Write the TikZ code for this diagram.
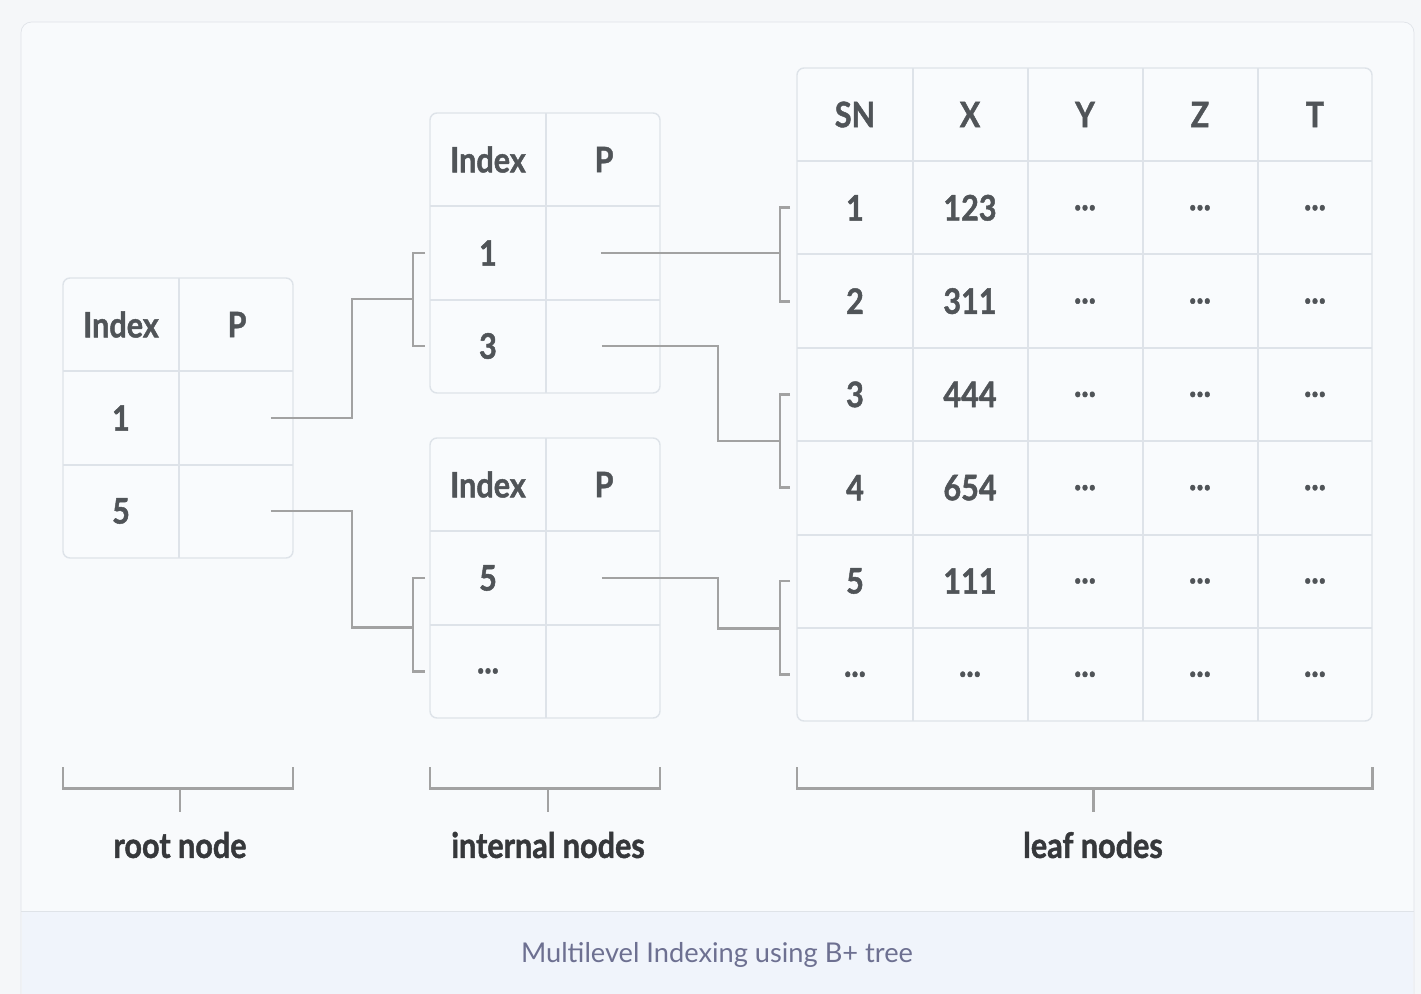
\documentclass[tikz,border=0pt]{standalone}
\usepackage{fontspec}
\setmainfont{Lato}[FakeStretch=0.87, BoldFeatures={FakeBold=1.3}]
\newfontfamily\captionfont{Lato}
\usetikzlibrary{positioning}
\definecolor{page-bg}{HTML}{F5F7F9}
\definecolor{card-bg}{HTML}{F8FAFC}
\definecolor{card-border}{HTML}{DFE3E8}
\definecolor{caption-bg}{HTML}{F0F4FB}
\definecolor{caption-color}{HTML}{6D7091}
\definecolor{cell-fill}{HTML}{F9FBFD}
\definecolor{cell-border}{HTML}{DEE3E9}
\definecolor{cell-color}{HTML}{505458}
\definecolor{label-color}{HTML}{36383B}
\definecolor{link-color}{HTML}{A2A2A2}
\newcommand{\moredots}{...}
\tikzset{
  table-cell/.style={
    minimum width=2.3cm, minimum height=1.86cm, inner sep=0pt,
    text=cell-color, font=\fontsize{20}{23}\selectfont\bfseries
  },
  table-frame/.style={draw=cell-border, fill=cell-fill, line width=0.8pt, rounded corners=4pt},
  table-grid/.style={draw=cell-border, line width=0.8pt},
  link/.style={draw=link-color, line width=1.7pt},
  group-label/.style={text=label-color, font=\fontsize{20}{23}\selectfont\bfseries},
  caption-text/.style={text=caption-color, font=\captionfont\fontsize{15.5}{18}\selectfont}
}

\begin{document}
\begin{tikzpicture}[x=0.02cm, y=-0.02cm]
  \clip (0,0) rectangle (1421,994);
  \fill[page-bg] (0,0) rectangle (1421,994);
  \draw[card-border, fill=card-bg, rounded corners=6pt] (21,22) rectangle (1414,1040);
  \fill[caption-bg] (22,911) rectangle (1413,994);
  \draw[card-border] (21,911) -- (1414,911);
  \node[caption-text] (caption) at (717,955) {Multilevel Indexing using B+ tree};

  % root and internal nodes: Index / P tables
  \foreach \t/\x/\y/\ka/\kb in {root/63/278/1/5, int1/430/113/1/3, int2/430/438/5/\moredots} {
    \draw[table-frame] (\x,\y) rectangle ++(230,280);
    \draw[table-grid] (\x+116,\y) -- ++(0,280);
    \draw[table-grid] (\x,\y+93) -- ++(230,0) (\x,\y+187) -- ++(230,0);
    \node[table-cell] (\t-h1) at (\x+58,\y+46.5)  {Index};
    \node[table-cell] (\t-h2) at (\x+174,\y+46.5) {P};
    \node[table-cell] (\t-k1) at (\x+58,\y+140)   {\ka};
    \node[table-cell] (\t-p1) at (\x+174,\y+140)  {};
    \node[table-cell] (\t-k2) at (\x+58,\y+233)   {\kb};
    \node[table-cell] (\t-p2) at (\x+174,\y+233)  {};
  }

  % leaf nodes: the data records
  \draw[table-frame] (797,68) rectangle (1372,721);
  \foreach \c in {913,1028,1143,1258} \draw[table-grid] (\c,68) -- (\c,721);
  \foreach \r in {161,254,348,441,535,628} \draw[table-grid] (797,\r) -- (1372,\r);
  \foreach \h [count=\c] in {SN,X,Y,Z,T}
    \node[table-cell] (leaf-0-\c) at (740+115*\c,114.5) {\h};
  \foreach \sn/\xv [count=\r] in {1/123, 2/311, 3/444, 4/654, 5/111, \moredots/\moredots} {
    \node[table-cell] (leaf-\r-1) at (855,114.5+93.3*\r) {\sn};
    \node[table-cell] (leaf-\r-2) at (970,114.5+93.3*\r) {\xv};
    \foreach \c in {3,4,5}
      \node[table-cell] (leaf-\r-\c) at (740+115*\c,114.5+93.3*\r) {\moredots};
  }

  \coordinate (fork-i1) at (413,299);
  \coordinate (fork-i2) at (413,627);
  \coordinate (fork-l1) at (780,253);
  \coordinate (fork-l2) at (780,441);
  \coordinate (fork-l3) at (780,628);

  \draw[link] ([xshift=-0.48cm]root-p1.east) -| (352,299) -- (fork-i1);
  \draw[link] ([xshift=-0.48cm]root-p2.east) -| (352,627) -- (fork-i2);
  \draw[link] ([xshift=-0.1cm]int1-k1.west) -| (fork-i1) |- ([xshift=-0.1cm]int1-k2.west);
  \draw[link] ([xshift=-0.1cm]int2-k1.west) -| (fork-i2) |- ([xshift=-0.1cm]int2-k2.west);

  \draw[link] ([xshift=-1.22cm]int1-p1.east) -- (fork-l1);
  \draw[link] ([xshift=-1.2cm]int1-p2.east) -| (718,441) -- (fork-l2);
  \draw[link] ([xshift=-1.2cm]int2-p1.east) -| (718,628) -- (fork-l3);
  \draw[link] ([xshift=-0.14cm]leaf-1-1.west) -| (fork-l1) |- ([xshift=-0.14cm]leaf-2-1.west);
  \draw[link] ([xshift=-0.14cm]leaf-3-1.west) -| (fork-l2) |- ([xshift=-0.14cm]leaf-4-1.west);
  \draw[link] ([xshift=-0.14cm]leaf-5-1.west) -| (fork-l3) |- ([xshift=-0.14cm]leaf-6-1.west);

  % level labels under the tables
  \node[group-label] (root-label) at (180,845)  {root node};
  \node[group-label] (int-label)  at (548,845)  {internal nodes};
  \node[group-label] (leaf-label) at (1093,845) {leaf nodes};
  \draw[link] (63,767) |- (293,788) -- (293,767) (root-label.north |- 0,788) -- ++(0,24);
  \draw[link] (430,767) |- (660,788) -- (660,767) (int-label.north |- 0,788) -- ++(0,24);
  \draw[link] (797,767) |- (1372,788) -- (1372,767) (leaf-label.north |- 0,788) -- ++(0,24);
\end{tikzpicture}
\end{document}
